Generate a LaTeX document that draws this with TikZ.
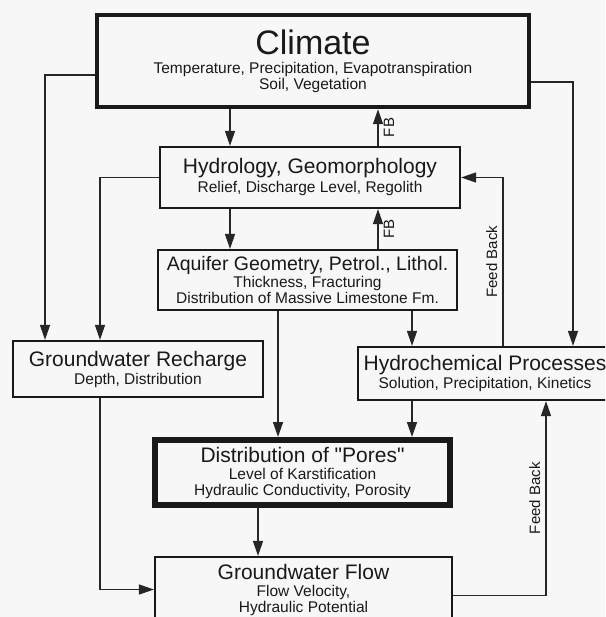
\documentclass[tikz,border=0pt]{standalone}
\usepackage{fontspec}
\setmainfont{Liberation Sans}
\usepackage{tikz}
\usetikzlibrary{arrows.meta, positioning, calc}

\newcommand{\boxtitle}[1]{{\fontsize{21}{21}\selectfont #1}}

\begin{document}
\begin{tikzpicture}[
    x=1pt, y=-1pt,
    font=\fontsize{15.5}{16}\selectfont,
    block/.style={draw=black!90, rectangle, line width=2.2pt, align=center, inner sep=0pt, text=black!90},
    arrow/.style={draw=black!85, line width=1.4pt, -{Triangle[length=15pt,width=10pt]}},
    fblabel/.style={rotate=90, inner sep=5pt, text=black!90, font=\fontsize{15}{15}\selectfont}
]

% page
\fill[black!3] (0,0) rectangle (605,617);
\useasboundingbox (0,0) rectangle (605,617);
\clip (0,0) rectangle (605,617);

% Nodes
\node (climate) [block, line width=4.5pt, minimum width=432pt, minimum height=92pt] at (313,61)
    {{\fontsize{34}{34}\selectfont Climate}\\[3pt]
     Temperature, Precipitation, Evapotranspiration\\ Soil, Vegetation};
\node (hydro) [block, minimum width=300pt, minimum height=61pt] at (310,177.5)
    {\boxtitle{Hydrology, Geomorphology}\\[3pt] Relief, Discharge Level, Regolith};
\node (aquifer) [block, minimum width=299pt, minimum height=60pt] at (307.5,280)
    {{\fontsize{19.5}{19.5}\selectfont Aquifer Geometry, Petrol., Lithol.}\\[1pt]
     Thickness, Fracturing\\ Distribution of Massive Limestone Fm.};
\node (recharge) [block, minimum width=250pt, minimum height=56pt] at (138,369)
    {\boxtitle{Groundwater Recharge}\\[2pt] Depth, Distribution};
\node (hydrochem) [block, minimum width=254pt, minimum height=53pt] at (485,373.5)
    {\boxtitle{Hydrochemical Processes}\\[2pt] Solution, Precipitation, Kinetics};
\node (pores) [block, line width=6pt, minimum width=295pt, minimum height=65pt] at (302.5,472.5)
    {\boxtitle{Distribution of \textquotedbl Pores\textquotedbl}\\[1pt] Level of Karstification\\ Hydraulic Conductivity, Porosity};
\node (flow) [block, minimum width=297pt, minimum height=65pt] at (303.5,589.5)
    {\boxtitle{Groundwater Flow}\\[1pt] Flow Velocity,\\ Hydraulic Potential};

% Links from climate
\draw[arrow] ([yshift=-14pt]climate.west) -| (recharge.north -| 45,0);
\draw[arrow] (climate.south -| 230,0) -- (hydro.north -| 230,0);
\draw[arrow] (hydro.north -| 378,0) -- node[fblabel, anchor=north] {FB} (climate.south -| 378,0);
\draw[arrow] ([yshift=-21pt]climate.east) -| (hydrochem.north -| 573,0);

% Links from hydrology
\draw[arrow] (hydro.south -| 230,0) -- (aquifer.north -| 230,0);
\draw[arrow] (aquifer.north -| 378,0) -- node[fblabel, anchor=north] {FB} (hydro.south -| 378,0);
\draw[arrow] (hydro.west) -| (recharge.north -| 100,0);
\draw[arrow] (hydrochem.north -| 503,0) |- node[fblabel, pos=0.25, anchor=south] {Feed Back} (hydro.east);

% Links from aquifer
\draw[arrow] (aquifer.south -| 412,0) -- (hydrochem.north -| 412,0);
\draw[arrow] (aquifer.south -| 278,0) -- (pores.north -| 278,0);

% Lower part
\draw[arrow] (hydrochem.south -| 412,0) -- (pores.north -| 412,0);
\draw[arrow] (recharge.south -| 100,0) |- (flow.west);
\draw[arrow] (pores.south -| 258,0) -- (flow.north -| 258,0);
\draw[arrow] ([yshift=-6pt]flow.east) -| node[fblabel, pos=0.75, anchor=south] {Feed Back} (hydrochem.south -| 546,0);

\end{tikzpicture}
\end{document}
